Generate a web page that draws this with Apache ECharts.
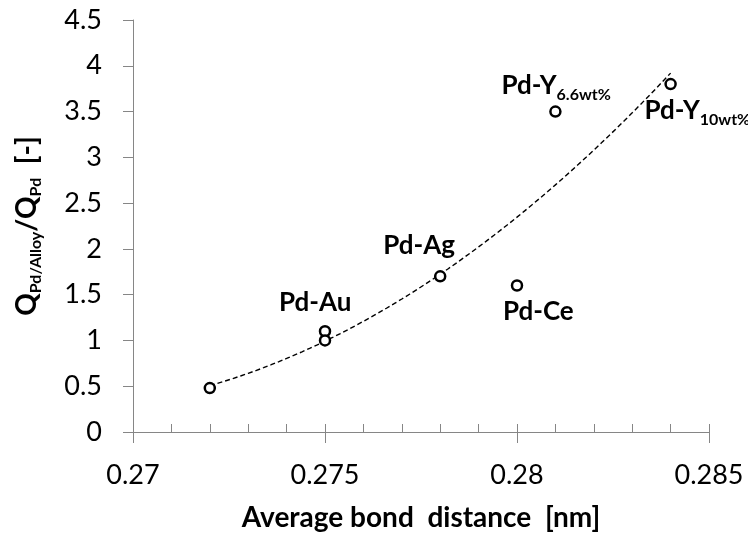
<!DOCTYPE html>
<html>
<head>
<meta charset="utf-8">
<script src="https://cdn.jsdelivr.net/npm/echarts@6/dist/echarts.min.js"></script>
<style>
  html, body { margin: 0; padding: 0; background: #fff; }
  #chart { width: 748px; height: 538px; }
</style>
</head>
<body>
<div id="chart"></div>
<script>
// Average bond distance of each alloy [nm]
const bondDistance = [0.272, 0.275, 0.275, 0.278, 0.280, 0.281, 0.284];
// Hydrogen permeability ratio Q_Pd/Alloy / Q_Pd [-]
const qRatio = [0.48, 1.1, 1.0, 1.7, 1.6, 3.5, 3.8];
// Alloy names and their subscripts ('' = unlabelled point)
const alloyNames = ['', 'Pd-Au', '', 'Pd-Ag', 'Pd-Ce', 'Pd-Y', 'Pd-Y'];
const alloySubs = ['', '', '', '', '', '6.6wt%', '10wt%'];
// Axis tick values
const xTicks = [0.27, 0.275, 0.28, 0.285];
const yTicks = [0, 0.5, 1, 1.5, 2, 2.5, 3, 3.5, 4, 4.5];

// Label placement (top-left of each label relative to its point, px)
const labelOffsets = [null, [-46, -42], null, [-57, -44], [-14, 13], [-54, -39], [-26, 14]];

const FONT = 'Lato';
const AXIS_GREY = '#868686';

// Second-order least-squares trend line through all points
function quadraticFit(xs, ys) {
  const x0 = xs[0];
  const u = xs.map(x => (x - x0) * 1000);
  let s = [0, 0, 0, 0, 0], t = [0, 0, 0];
  u.forEach((v, i) => {
    for (let k = 0; k < 5; k++) s[k] += Math.pow(v, k);
    for (let k = 0; k < 3; k++) t[k] += Math.pow(v, k) * ys[i];
  });
  const M = [[s[0], s[1], s[2], t[0]], [s[1], s[2], s[3], t[1]], [s[2], s[3], s[4], t[2]]];
  for (let c = 0; c < 3; c++) {
    for (let r = c + 1; r < 3; r++) {
      const f = M[r][c] / M[c][c];
      for (let k = c; k < 4; k++) M[r][k] -= f * M[c][k];
    }
  }
  const coef = [0, 0, 0];
  for (let r = 2; r >= 0; r--) {
    let acc = M[r][3];
    for (let k = r + 1; k < 3; k++) acc -= M[r][k] * coef[k];
    coef[r] = acc / M[r][r];
  }
  return x => {
    const v = (x - x0) * 1000;
    return coef[0] + coef[1] * v + coef[2] * v * v;
  };
}

const trend = quadraticFit(bondDistance, qRatio);
const xMinData = Math.min(...bondDistance), xMaxData = Math.max(...bondDistance);
const trendData = [];
const steps = 60;
for (let i = 0; i <= steps; i++) {
  const x = xMinData + (xMaxData - xMinData) * i / steps;
  trendData.push([x, trend(x)]);
}

// Rich styles for point labels (main text + lowered subscript)
const labelRich = {
  m: { fontFamily: FONT, fontWeight: 'bold', fontSize: 26, lineHeight: 26, verticalAlign: 'top', color: '#000' },
  s: { fontFamily: FONT, fontWeight: 'bold', fontSize: 16, lineHeight: 16, verticalAlign: 'top', color: '#000', padding: [14, 0, 0, 0] }
};
// Rich styles for the vertical axis title
const titleRich = {
  m: { fontFamily: FONT, fontWeight: 'bold', fontSize: 28, lineHeight: 28, verticalAlign: 'top', color: '#000' },
  s: { fontFamily: FONT, fontWeight: 'bold', fontSize: 16, lineHeight: 16, verticalAlign: 'top', color: '#000', padding: [15, 0, 0, 0] }
};

const pointData = bondDistance.map((x, i) => {
  const item = { value: [x, qRatio[i]] };
  if (alloyNames[i]) {
    const txt = '{m|' + alloyNames[i] + '}' + (alloySubs[i] ? '{s|' + alloySubs[i] + '}' : '');
    item.label = {
      show: true,
      position: 'inside',
      align: 'left',
      verticalAlign: 'top',
      offset: labelOffsets[i],
      formatter: () => txt,
      rich: labelRich
    };
  }
  return item;
});

const chart = echarts.init(document.getElementById('chart'), null, { renderer: 'canvas' });

chart.setOption({
  backgroundColor: '#fff',
  animation: false,
  grid: { left: 133, right: 39, top: 20, bottom: 106, containLabel: false, outerBoundsMode: 'none' },
  xAxis: [
    {
      type: 'value',
      min: xTicks[0],
      max: xTicks[xTicks.length - 1],
      interval: xTicks[1] - xTicks[0],
      axisLine: { show: true, onZero: false, lineStyle: { color: AXIS_GREY, width: 1 } },
      axisTick: { show: true, inside: false, length: 11, lineStyle: { color: AXIS_GREY, width: 1 } },
      axisLabel: { margin: 30, fontFamily: FONT, fontSize: 27, color: '#000' },
      splitLine: { show: false },
      name: 'Average bond  distance  [nm]',
      nameLocation: 'middle',
      nameGap: 72,
      nameTextStyle: { fontFamily: FONT, fontWeight: 'bold', fontSize: 28, color: '#000' }
    },
    {
      // minor tick marks drawn on the inner side of the horizontal axis
      type: 'value',
      position: 'bottom',
      min: xTicks[0],
      max: xTicks[xTicks.length - 1],
      interval: (xTicks[1] - xTicks[0]) / 5,
      axisLine: { show: false, onZero: false },
      axisTick: { show: true, inside: true, length: 8, lineStyle: { color: AXIS_GREY, width: 1 } },
      axisLabel: { show: false },
      splitLine: { show: false }
    }
  ],
  yAxis: {
    type: 'value',
    min: yTicks[0],
    max: yTicks[yTicks.length - 1],
    interval: yTicks[1] - yTicks[0],
    axisLine: { show: true, onZero: false, lineStyle: { color: AXIS_GREY, width: 1 } },
    axisTick: { show: true, inside: false, length: 10, lineStyle: { color: AXIS_GREY, width: 1 } },
    axisLabel: { margin: 31, fontFamily: FONT, fontSize: 27, color: '#000' },
    splitLine: { show: false },
    name: '{m|Q}{s|Pd/Alloy}{m|/Q}{s|Pd}{m|  [-]}',
    nameLocation: 'middle',
    nameRotate: 90,
    nameGap: 92,
    nameTextStyle: { rich: titleRich }
  },
  series: [
    {
      type: 'line',
      data: trendData,
      xAxisIndex: 0,
      showSymbol: false,
      symbol: 'none',
      silent: true,
      lineStyle: { color: '#000', width: 1.4, type: [5, 3] },
      z: 2
    },
    {
      type: 'scatter',
      data: pointData,
      xAxisIndex: 0,
      symbol: 'circle',
      symbolSize: 10,
      itemStyle: { color: '#fff', borderColor: '#000', borderWidth: 2.5, opacity: 1 },
      z: 3
    }
  ]
});
</script>
</body>
</html>
